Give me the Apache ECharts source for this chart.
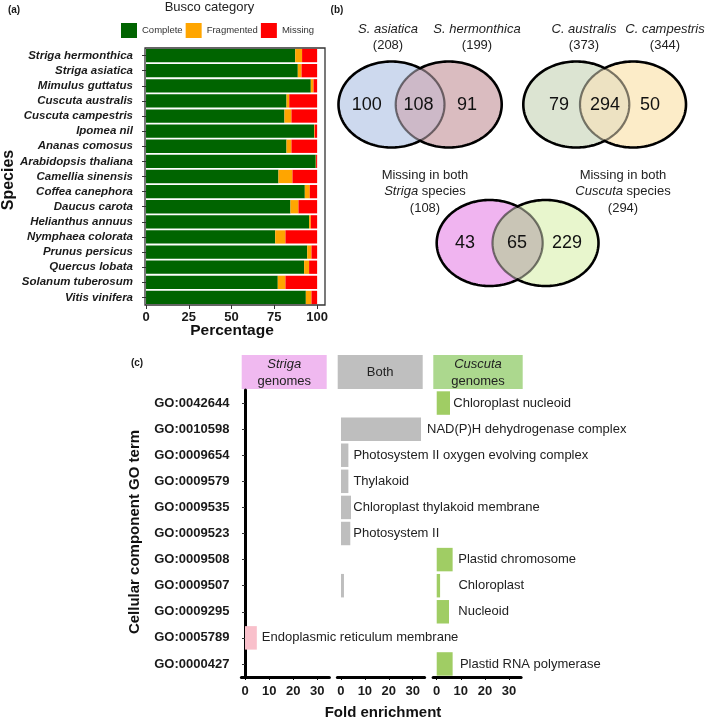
<!DOCTYPE html>
<html><head><meta charset="utf-8">
<script src="https://cdn.jsdelivr.net/npm/echarts@6/dist/echarts.min.js"></script>
<style>html,body{margin:0;padding:0;background:#fff}#c{width:709px;height:720px}</style>
</head><body><div id="c"></div><script>
const FONT = '"Liberation Sans", Arial, Helvetica, sans-serif';

// ---------- Panel (a) data ----------
const species = ['Striga hermonthica','Striga asiatica','Mimulus guttatus','Cuscuta australis','Cuscuta campestris','Ipomea nil','Ananas comosus','Arabidopsis thaliana','Camellia sinensis','Coffea canephora','Daucus carota','Helianthus annuus','Nymphaea colorata','Prunus persicus','Quercus lobata','Solanum tuberosum','Vitis vinifera'];
const complete   = [87.2, 88.7, 96.3, 82.1, 80.9, 98.2, 82.1, 99.2, 77.4, 92.8, 84.4, 95.3, 75.5, 94.2, 92.4, 77.0, 93.4];
const fragmented = [4.0, 2.2, 1.6, 1.6, 4.1, 0.4, 2.9, 0.2, 8.2, 2.9, 4.7, 1.0, 6.0, 2.5, 2.9, 4.5, 3.3];
const missing    = [8.8, 9.1, 2.1, 16.3, 15.0, 1.4, 15.0, 0.6, 14.4, 4.3, 10.9, 3.7, 18.5, 3.3, 4.7, 18.5, 3.3];
const buscoCats  = ['Complete','Fragmented','Missing'];
const percentTicks = [0, 25, 50, 75, 100];

// ---------- Panel (b) data ----------
const vennSetNames = [['S. asiatica','S. hermonthica'],['C. australis','C. campestris'],['Striga','Cuscuta']];
const vennTotals   = [[208,199],[373,344],[108,294]];
const vennCounts   = [[100,108,91],[79,294,50],[43,65,229]];

// ---------- Panel (c) data ----------
const goTerms = ['GO:0042644','GO:0010598','GO:0009654','GO:0009579','GO:0009535','GO:0009523','GO:0009508','GO:0009507','GO:0009295','GO:0005789','GO:0000427'];
const goNames = ['Chloroplast nucleoid','NAD(P)H dehydrogenase complex','Photosystem II oxygen evolving complex','Thylakoid','Chloroplast thylakoid membrane','Photosystem II','Plastid chromosome','Chloroplast','Nucleoid','Endoplasmic reticulum membrane','Plastid RNA polymerase'];
const strigaFold  = [null,null,null,null,null,null,null,null,null,4.9,null];
const bothFold    = [null,33.5,3.1,3.1,4.2,3.9,null,1.25,null,null,null];
const cuscutaFold = [5.5,null,null,null,null,null,6.6,1.4,5.1,null,6.6];
const foldTicks = [0, 10, 20, 30];
const panelHeaders = ['Striga genomes','Both','Cuscuta genomes'];

// ---------- styles / layout ----------
const labelGap = [3.3, 6, 5, 5, 2.3, 3, 5.6, 18.3, 9.3, 5, 7.3];
const vennLayout = [
  {cxA:61.5, cxB:118.7, cy:104.5, rx:53, ry:43, fills:['#cdd9ee','#dabcc0','#cdb9c8'],
   nameX:[58,147], nameY:29, totY:45, cntX:[36.7,88.5,137], cntY:105},
  {cxA:246.3, cxB:303, cy:104.5, rx:53, ry:43, fills:['#dce4d2','#fcecc8','#ede2c2'],
   nameX:[254,335], nameY:29, totY:45, cntX:[229,275,320], cntY:105},
  {cxA:159.7, cxB:215.5, cy:243, rx:53, ry:43, fills:['#f0b4f0','#e8f6cd','#c9c5b6'],
   nameX:[95,293], nameY:175, totY:208, cntX:[135,187,237], cntY:243}
];

function arcPts(api, cx, cy, rx, ry, t0, t1, n) {
  const pts = [];
  for (let k = 0; k <= n; k++) {
    const t = t0 + (t1 - t0) * k / n;
    pts.push(api.coord([cx + rx * Math.cos(t), cy + ry * Math.sin(t)]));
  }
  return pts;
}

function renderVenn(params, api) {
  const i = params.dataIndex;
  const L = vennLayout[i];
  const d = L.cxB - L.cxA;
  const t0 = Math.acos((d / 2) / L.rx);
  const ellA = arcPts(api, L.cxA, L.cy, L.rx, L.ry, 0, 2*Math.PI, 160);
  const ellB = arcPts(api, L.cxB, L.cy, L.rx, L.ry, 0, 2*Math.PI, 160);
  const lens = arcPts(api, L.cxA, L.cy, L.rx, L.ry, -t0, t0, 60)
      .concat(arcPts(api, L.cxB, L.cy, L.rx, L.ry, Math.PI - t0, Math.PI + t0, 60));
  const outline = arcPts(api, L.cxA, L.cy, L.rx, L.ry, t0, 2*Math.PI - t0, 120)
      .concat(arcPts(api, L.cxB, L.cy, L.rx, L.ry, Math.PI + t0, 3*Math.PI - t0, 120));
  const children = [
    {type:'polygon', shape:{points:ellA}, style:{fill:L.fills[0], stroke:'none'}},
    {type:'polygon', shape:{points:ellB}, style:{fill:L.fills[1], stroke:'none'}},
    {type:'polygon', shape:{points:lens}, style:{fill:L.fills[2], stroke:'rgba(0,0,0,0.5)', lineWidth:2.2}},
    {type:'polygon', shape:{points:outline}, style:{fill:'none', stroke:'#000', lineWidth:2.6}}
  ];
  const counts = vennCounts[i];
  for (let k = 0; k < 3; k++) {
    const p = api.coord([L.cntX[k], L.cntY]);
    children.push({type:'text', x:p[0], y:p[1], style:{text:String(counts[k]), fill:'#111',
      fontSize:18, fontFamily:FONT, align:'center', verticalAlign:'middle'}});
  }
  for (let s = 0; s < 2; s++) {
    const name = vennSetNames[i][s];
    const tot = '(' + vennTotals[i][s] + ')';
    if (i < 2) {
      const p1 = api.coord([L.nameX[s], L.nameY]);
      const p2 = api.coord([L.nameX[s], L.totY]);
      children.push({type:'text', x:p1[0], y:p1[1], style:{text:name, fill:'#222', fontSize:13, fontStyle:'italic', fontFamily:FONT, align:'center', verticalAlign:'middle'}});
      children.push({type:'text', x:p2[0], y:p2[1], style:{text:tot, fill:'#222', fontSize:13, fontFamily:FONT, align:'center', verticalAlign:'middle'}});
    } else {
      const ys = [L.nameY, (L.nameY + L.totY) / 2, L.totY];
      const p1 = api.coord([L.nameX[s], ys[0]]);
      const p2 = api.coord([L.nameX[s], ys[1]]);
      const p3 = api.coord([L.nameX[s], ys[2]]);
      children.push({type:'text', x:p1[0], y:p1[1], style:{text:'Missing in both', fill:'#222', fontSize:13, fontFamily:FONT, align:'center', verticalAlign:'middle'}});
      children.push({type:'text', x:p2[0], y:p2[1], style:{text:'{i|' + name + '}{n| species}', fill:'#222', fontSize:13, fontFamily:FONT, align:'center', verticalAlign:'middle',
        rich:{i:{fontStyle:'italic', fontSize:13, fontFamily:FONT, fill:'#222'}, n:{fontSize:13, fontFamily:FONT, fill:'#222'}}}});
      children.push({type:'text', x:p3[0], y:p3[1], style:{text:tot, fill:'#222', fontSize:13, fontFamily:FONT, align:'center', verticalAlign:'middle'}});
    }
  }
  return {type:'group', children};
}

// ---------- panel (c) series data ----------
function lastPanelWithValue(i) {
  if (cuscutaFold[i] != null) return 2;
  if (bothFold[i] != null) return 1;
  return 0;
}
function foldData(arr, panel) {
  return arr.map((v, i) => {
    if (v == null) return '-';
    if (lastPanelWithValue(i) === panel) {
      return {value: v, label: {show: true, position: 'right', distance: labelGap[i], formatter: goNames[i]}};
    }
    return v;
  });
}

const cGrids = [
  {left:241.4, top:390, width:88.0, height:287},
  {left:337.4, top:390, width:87.2, height:287},
  {left:433.1, top:390, width:88.0, height:287}
];
const headerBoxes = [
  {x:241.7, w:85.0, fill:'#f0b9f0'},
  {x:337.7, w:85.0, fill:'#bfbfbf'},
  {x:433.3, w:89.4, fill:'#acd88e'}
];
const cColors = ['#f9c0cb', '#bebebe', '#a0cd64'];

function cXAxis(gi) {
  return {type:'value', gridIndex:gi, min:-1.5, max:35,
    axisLine:{show:true, lineStyle:{color:'#000', width:3}},
    axisTick:{show:true, customValues:foldTicks, length:3, lineStyle:{color:'#000', width:1}},
    axisLabel:{customValues:foldTicks, fontSize:13, fontWeight:'bold', color:'#1a1a1a', fontFamily:FONT, margin:8},
    splitLine:{show:false}};
}

const graphics = [];
function txt(x, y, text, opts) {
  graphics.push(Object.assign({type:'text', x, y, silent:true,
    style:Object.assign({text, fill:'#1a1a1a', fontFamily:FONT, fontSize:13, align:'center', verticalAlign:'middle'}, opts || {})}, {}));
}
txt(14, 10, '(a)', {fontSize:10, fontWeight:'bold'});
txt(337, 10, '(b)', {fontSize:10, fontWeight:'bold'});
txt(137, 363, '(c)', {fontSize:10, fontWeight:'bold'});
txt(209.5, 7, 'Busco category', {fontSize:13, fill:'#222'});
graphics.push({type:'text', x:9, y:180, rotation:Math.PI/2, silent:true,
  style:{text:'Species', fill:'#111', fontFamily:FONT, fontSize:16, fontWeight:'bold', align:'center', verticalAlign:'middle'}});
txt(232, 331, 'Percentage', {fontSize:15.5, fontWeight:'bold', fill:'#111'});
graphics.push({type:'text', x:135, y:532, rotation:Math.PI/2, silent:true,
  style:{text:'Cellular component GO term', fill:'#111', fontFamily:FONT, fontSize:15, fontWeight:'bold', align:'center', verticalAlign:'middle'}});
txt(383, 713, 'Fold enrichment', {fontSize:15, fontWeight:'bold', fill:'#111'});
headerBoxes.forEach((b, k) => {
  graphics.push({type:'rect', silent:true, shape:{x:b.x, y:355, width:b.w, height:34}, style:{fill:b.fill}});
  const parts = panelHeaders[k].split(' ');
  if (parts.length === 2) {
    graphics.push({type:'text', x:b.x + b.w/2, y:372.5, silent:true,
      style:{text:'{i|' + parts[0] + '}\n{n|' + parts[1] + '}', fill:'#222', fontFamily:FONT, fontSize:13, align:'center', verticalAlign:'middle',
        rich:{i:{fontStyle:'italic', fontSize:13, fontFamily:FONT, fill:'#222', lineHeight:17}, n:{fontSize:13, fontFamily:FONT, fill:'#222', lineHeight:17}}}});
  } else {
    txt(b.x + b.w/2, 372.5, panelHeaders[k], {fill:'#222'});
  }
});

const option = {
  animation:false,
  backgroundColor:'#fff',
  textStyle:{fontFamily:FONT},
  legend:{data:buscoCats, left:116, top:18, itemWidth:16, itemHeight:15, itemGap:3, icon:'rect', selectedMode:false,
    textStyle:{fontSize:9.5, color:'#333', fontFamily:FONT}},
  grid:[
    {left:145, top:48, width:180, height:257, show:true, borderColor:'#333', borderWidth:1.3, backgroundColor:'#fff'},
    {left:330, top:0, width:379, height:300},
    cGrids[0], cGrids[1], cGrids[2]
  ],
  xAxis:[
    {type:'value', gridIndex:0, min:-0.6, max:104.6, axisLine:{show:false},
     axisTick:{show:true, customValues:percentTicks, length:4, lineStyle:{color:'#333'}},
     axisLabel:{customValues:percentTicks, fontSize:13, fontWeight:'bold', color:'#1a1a1a', fontFamily:FONT, margin:6},
     splitLine:{show:false}},
    {type:'value', gridIndex:1, min:0, max:379, show:false},
    cXAxis(2), cXAxis(3), cXAxis(4)
  ],
  yAxis:[
    {type:'category', gridIndex:0, data:species, inverse:true, axisLine:{show:false},
     axisTick:{show:true, alignWithLabel:true, interval:0, length:4, lineStyle:{color:'#333'}},
     axisLabel:{interval:0, fontSize:11.5, fontWeight:'bold', fontStyle:'italic', color:'#1a1a1a', fontFamily:FONT, margin:12}},
    {type:'value', gridIndex:1, min:0, max:300, inverse:true, show:false},
    {type:'category', gridIndex:2, data:goTerms, inverse:true,
     axisLine:{show:true, lineStyle:{color:'#000', width:3}},
     axisTick:{show:true, alignWithLabel:true, interval:0, length:3, lineStyle:{color:'#333'}},
     axisLabel:{interval:0, fontSize:13, fontWeight:'bold', color:'#1a1a1a', fontFamily:FONT, margin:12}},
    {type:'category', gridIndex:3, data:goTerms, inverse:true, show:false},
    {type:'category', gridIndex:4, data:goTerms, inverse:true, show:false}
  ],
  series:[
    {name:'Complete', type:'bar', stack:'busco', xAxisIndex:0, yAxisIndex:0, data:complete, barWidth:'88%', itemStyle:{color:'#006400'}},
    {name:'Fragmented', type:'bar', stack:'busco', xAxisIndex:0, yAxisIndex:0, data:fragmented, barWidth:'88%', itemStyle:{color:'#ffa500'}},
    {name:'Missing', type:'bar', stack:'busco', xAxisIndex:0, yAxisIndex:0, data:missing, barWidth:'88%', itemStyle:{color:'#ff0000'}},
    {type:'custom', xAxisIndex:1, yAxisIndex:1, data:[[0,0],[1,0],[2,0]], renderItem:renderVenn, silent:true},
    {name:'Striga genomes', type:'bar', xAxisIndex:2, yAxisIndex:2, data:foldData(strigaFold, 0), barWidth:'90%', itemStyle:{color:cColors[0]},
     label:{show:false, color:'#222', fontSize:13, fontFamily:FONT}},
    {name:'Both', type:'bar', xAxisIndex:3, yAxisIndex:3, data:foldData(bothFold, 1), barWidth:'90%', itemStyle:{color:cColors[1]},
     label:{show:false, color:'#222', fontSize:13, fontFamily:FONT}},
    {name:'Cuscuta genomes', type:'bar', xAxisIndex:4, yAxisIndex:4, data:foldData(cuscutaFold, 2), barWidth:'90%', itemStyle:{color:cColors[2]},
     label:{show:false, color:'#222', fontSize:13, fontFamily:FONT}}
  ],
  graphic:{elements:graphics}
};

const chart = echarts.init(document.getElementById('c'), null, {renderer:'canvas', width:709, height:720});
chart.setOption(option);
</script></body></html>
